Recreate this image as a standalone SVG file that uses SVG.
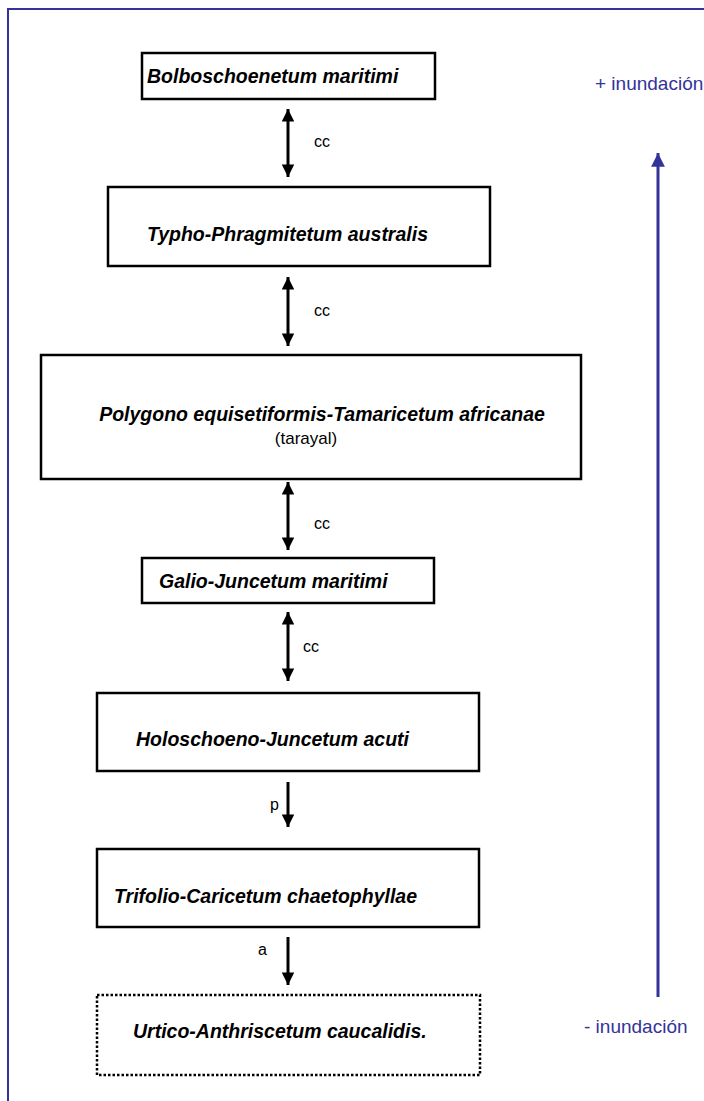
<svg xmlns="http://www.w3.org/2000/svg" width="704" height="1101" viewBox="0 0 704 1101">
  <style>
    .box { fill: #fff; stroke: #000; stroke-width: 2.5; }
    .dotted { stroke-dasharray: 2.5 2; }
    .name { font-family: "Liberation Sans", Arial, sans-serif; font-size: 19.5px; font-weight: bold; font-style: italic; fill: #000; }
    .plain { font-family: "Liberation Sans", Arial, sans-serif; font-size: 17px; fill: #000; }
    .lbl { font-family: "Liberation Sans", Arial, sans-serif; font-size: 16px; fill: #000; }
    .blue { font-family: "Liberation Sans", Arial, sans-serif; font-size: 19px; fill: #33339a; }
    .conn { stroke: #000; stroke-width: 3; fill: none; }
  </style>
  <defs>
    <marker id="ah" viewBox="0 0 10 10" refX="10" refY="5" markerWidth="4.2" markerHeight="4.2" markerUnits="strokeWidth" orient="auto-start-reverse">
      <path d="M0,0 L10,5 L0,10 z" fill="#000"/>
    </marker>
    <marker id="ahb" viewBox="0 0 10 10" refX="10" refY="5" markerWidth="4.6" markerHeight="4.6" markerUnits="strokeWidth" orient="auto">
      <path d="M0,0 L10,5 L0,10 z" fill="#33339a"/>
    </marker>
  </defs>

  <rect width="704" height="1101" fill="#fff"/>
  <!-- frame -->
  <path d="M8,1101 V9 H704" fill="none" stroke="#33339a" stroke-width="2"/>

  <g id="n1">
    <rect class="box" x="142" y="53" width="293" height="46"/>
    <text class="name" x="147" y="83">Bolboschoenetum maritimi</text>
  </g>
  <g id="n2">
    <rect class="box" x="108" y="187" width="382" height="79"/>
    <text class="name" x="147" y="241">Typho-Phragmitetum australis</text>
  </g>
  <g id="n3">
    <rect class="box" x="41" y="355" width="540" height="124"/>
    <text class="name" x="322" y="421" text-anchor="middle">Polygono equisetiformis-Tamaricetum africanae</text>
    <text class="plain" x="306" y="444" text-anchor="middle">(tarayal)</text>
  </g>
  <g id="n4">
    <rect class="box" x="142" y="558" width="292" height="45"/>
    <text class="name" x="159" y="588">Galio-Juncetum maritimi</text>
  </g>
  <g id="n5">
    <rect class="box" x="97" y="693" width="382" height="78"/>
    <text class="name" x="136" y="746">Holoschoeno-Juncetum acuti</text>
  </g>
  <g id="n6">
    <rect class="box" x="97" y="849" width="382" height="78"/>
    <text class="name" x="114" y="903">Trifolio-Caricetum chaetophyllae</text>
  </g>
  <g id="n7">
    <rect class="box dotted" x="97" y="995" width="383" height="80"/>
    <text class="name" x="133" y="1038">Urtico-Anthriscetum caucalidis.</text>
  </g>

  <g id="connectors">
    <line class="conn" x1="288" y1="109" x2="288" y2="177" marker-start="url(#ah)" marker-end="url(#ah)"/>
    <text class="lbl" x="314" y="147">cc</text>
    <line class="conn" x1="288" y1="277" x2="288" y2="346" marker-start="url(#ah)" marker-end="url(#ah)"/>
    <text class="lbl" x="314" y="316">cc</text>
    <line class="conn" x1="288" y1="482" x2="288" y2="550" marker-start="url(#ah)" marker-end="url(#ah)"/>
    <text class="lbl" x="314" y="529">cc</text>
    <line class="conn" x1="288" y1="612" x2="288" y2="681" marker-start="url(#ah)" marker-end="url(#ah)"/>
    <text class="lbl" x="303" y="652">cc</text>
    <line class="conn" x1="288" y1="782" x2="288" y2="827" marker-end="url(#ah)"/>
    <text class="lbl" x="270" y="810">p</text>
    <line class="conn" x1="288" y1="937" x2="288" y2="985" marker-end="url(#ah)"/>
    <text class="lbl" x="258" y="955">a</text>
    <!-- flooding gradient -->
    <line x1="658" y1="997" x2="658" y2="153" stroke="#33339a" stroke-width="3" marker-end="url(#ahb)"/>
  </g>
  <text class="blue" x="595" y="90">+ inundación</text>
  <text class="blue" x="584" y="1033">- inundación</text>
</svg>
